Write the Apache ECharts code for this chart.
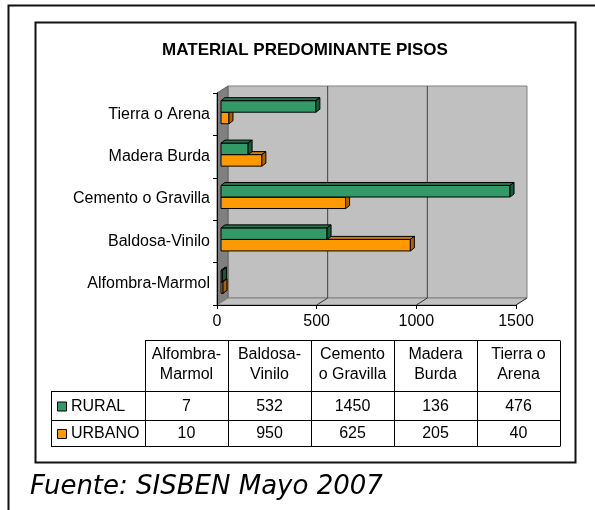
<!DOCTYPE html>
<html lang="es">
<head>
<meta charset="UTF-8" />
<title>Material predominante pisos</title>
<script src="https://cdn.jsdelivr.net/npm/echarts@6/dist/echarts.min.js"></script>
<style>
  html, body { margin: 0; padding: 0; background: #fff; }
  #grafico { width: 595px; height: 510px; }
</style>
</head>
<body>
<div id="grafico"></div>
<script>
  // Datos del grafico (de abajo hacia arriba en el eje de categorias)
  const categorias = ['Alfombra-Marmol', 'Baldosa-Vinilo', 'Cemento o Gravilla', 'Madera Burda', 'Tierra o Arena'];
  const encabezados = ['Alfombra-\nMarmol', 'Baldosa-\nVinilo', 'Cemento\no Gravilla', 'Madera\nBurda', 'Tierra o\nArena'];
  const nombresSeries = ['RURAL', 'URBANO'];
  const rural = [7, 532, 1450, 136, 476];
  const urbano = [10, 950, 625, 205, 40];
  const ticksX = [0, 500, 1000, 1500];

  const fuente = '"Liberation Sans", Arial, sans-serif';
  const colores = ['#339966', '#FF9900'];
  const coloresTapa = ['#267350', '#CC7A00'];
  const coloresLado = ['#1C5A3C', '#A86400'];

  // profundidad de las paredes y de las barras (efecto 3D)
  const prof = { dx: 11, dy: 7 };
  const barra = { bx: 4, by: -2, dx: 4, dy: 3 };

  // Paredes, piso y lineas de division
  function renderParedes(params, api) {
    const cs = params.coordSys;
    const izq = cs.x, arr = cs.y, der = cs.x + cs.width, abj = cs.y + cs.height;
    const hijos = [
      { type: 'rect', shape: { x: izq + prof.dx, y: arr - prof.dy, width: cs.width, height: cs.height },
        style: { fill: '#C0C0C0', stroke: '#808080', lineWidth: 1 } },
      { type: 'polygon', shape: { points: [[izq, arr], [izq + prof.dx, arr - prof.dy], [izq + prof.dx, abj - prof.dy], [izq, abj]] },
        style: { fill: '#808080', stroke: '#606060', lineWidth: 1 } },
      { type: 'polygon', shape: { points: [[izq, abj], [izq + prof.dx, abj - prof.dy], [der + prof.dx, abj - prof.dy], [der, abj]] },
        style: { fill: '#C0C0C0', stroke: '#808080', lineWidth: 1 } }
    ];
    ticksX.forEach(function (t) {
      if (t === 0) return;
      const x = api.coord([t, 0])[0];
      if (t < ticksX[ticksX.length - 1]) {
        hijos.push({ type: 'line', shape: { x1: x + prof.dx, y1: arr - prof.dy, x2: x + prof.dx, y2: abj - prof.dy },
          style: { stroke: '#404040', lineWidth: 1 } });
      }
      hijos.push({ type: 'line', shape: { x1: x, y1: abj, x2: x + prof.dx, y2: abj - prof.dy },
        style: { stroke: '#303030', lineWidth: 1 } });
    });
    return { type: 'group', children: hijos };
  }

  // Barra 3D: frente, tapa y lado
  function renderBarra(idx) {
    return function (params, api) {
      const v = api.value(0), cat = api.value(1);
      const p0 = api.coord([0, cat]);
      const p1 = api.coord([v, cat]);
      const banda = api.size([0, 1])[1];
      const h = banda * 0.272;
      const centro = p0[1] + barra.by;
      const y0 = idx === 0 ? centro - h : centro;
      const y1 = y0 + h;
      const x0 = p0[0] + barra.bx, x1 = p1[0] + barra.bx;
      const borde = { stroke: '#000', lineWidth: 1 };
      return {
        type: 'group',
        children: [
          { type: 'rect', shape: { x: x0, y: y0, width: x1 - x0, height: h },
            style: Object.assign({ fill: colores[idx] }, borde) },
          { type: 'polygon', shape: { points: [[x0, y0], [x0 + barra.dx, y0 - barra.dy], [x1 + barra.dx, y0 - barra.dy], [x1, y0]] },
            style: Object.assign({ fill: coloresTapa[idx] }, borde) },
          { type: 'polygon', shape: { points: [[x1, y0], [x1 + barra.dx, y0 - barra.dy], [x1 + barra.dx, y1 - barra.dy], [x1, y1]] },
            style: Object.assign({ fill: coloresLado[idx] }, borde) }
        ]
      };
    };
  }

  // Tabla de datos
  const tabla = { izq: 51, col0: 145, anchoCol: 83, arriba: 340.5, finEnc: 391, filas: [391, 420, 446] };
  const graficos = [];
  const derTabla = tabla.col0 + tabla.anchoCol * encabezados.length;
  function linea(x1, y1, x2, y2) {
    graficos.push({ type: 'line', shape: { x1: x1, y1: y1, x2: x2, y2: y2 }, style: { stroke: '#000', lineWidth: 1 } });
  }
  linea(tabla.col0, tabla.arriba, derTabla, tabla.arriba);
  tabla.filas.forEach(function (y) { linea(tabla.izq, y + 0.5, derTabla, y + 0.5); });
  linea(tabla.izq + 0.5, tabla.finEnc, tabla.izq + 0.5, tabla.filas[2] + 0.5);
  for (let i = 0; i <= encabezados.length; i++) {
    const x = tabla.col0 + tabla.anchoCol * i + 0.5;
    linea(x, tabla.arriba, x, tabla.filas[2] + 0.5);
  }
  encabezados.forEach(function (t, i) {
    graficos.push({ type: 'text', style: { text: t, x: tabla.col0 + tabla.anchoCol * (i + 0.5), y: 365,
      font: '16px ' + fuente, fill: '#000', align: 'center', verticalAlign: 'middle', lineHeight: 20 } });
  });
  [rural, urbano].forEach(function (serie, s) {
    const yc = (tabla.filas[s] + tabla.filas[s + 1]) / 2 + 1;
    graficos.push({ type: 'rect', shape: { x: 57.5, y: yc - 4.5, width: 9, height: 9 },
      style: { fill: colores[s], stroke: '#000', lineWidth: 1 } });
    graficos.push({ type: 'text', style: { text: nombresSeries[s], x: 71, y: yc,
      font: '16px ' + fuente, fill: '#000', align: 'left', verticalAlign: 'middle' } });
    serie.forEach(function (v, i) {
      graficos.push({ type: 'text', style: { text: String(v), x: tabla.col0 + tabla.anchoCol * (i + 0.5), y: yc,
        font: '16px ' + fuente, fill: '#000', align: 'center', verticalAlign: 'middle' } });
    });
  });

  // Marcos, titulo y fuente
  graficos.push({ type: 'polyline', shape: { points: [[8.5, 520], [8.5, 5.5], [600, 5.5]] },
    style: { stroke: '#111', lineWidth: 2, fill: null } });
  graficos.push({ type: 'rect', shape: { x: 35.5, y: 22.5, width: 540, height: 440 },
    style: { stroke: '#111', lineWidth: 2, fill: null }, z: -10 });
  graficos.push({ type: 'text', style: { text: 'MATERIAL PREDOMINANTE PISOS', x: 305, y: 50,
    font: 'bold 17px ' + fuente, fill: '#000', align: 'center', verticalAlign: 'middle' } });
  graficos.push({ type: 'text', style: { text: 'Fuente: SISBEN Mayo 2007', x: 30, y: 487,
    font: 'italic 26px "DejaVu Sans", Verdana, sans-serif', fill: '#000', align: 'left', verticalAlign: 'middle' } });

  const grafico = echarts.init(document.getElementById('grafico'));
  grafico.setOption({
    animation: false,
    backgroundColor: '#fff',
    grid: { left: 217, top: 93, width: 299, height: 212, containLabel: false, outerBoundsMode: 'none' },
    xAxis: {
      type: 'value', min: 0, max: 1500, interval: 500, z: 5,
      axisLine: { show: true, lineStyle: { color: '#000', width: 1 } },
      axisTick: { show: true, length: 4, lineStyle: { color: '#000' } },
      axisLabel: { color: '#000', fontSize: 16, fontFamily: fuente, margin: 9,
        formatter: function (v) { return String(v); } },
      splitLine: { show: false }
    },
    yAxis: {
      type: 'category', data: categorias, z: 5,
      axisLine: { show: true, lineStyle: { color: '#000', width: 1 } },
      axisTick: { show: true, length: 4, lineStyle: { color: '#000' } },
      axisLabel: { color: '#000', fontSize: 16, fontFamily: fuente, margin: 7 },
      splitLine: { show: false }
    },
    series: [
      { type: 'custom', name: 'paredes', renderItem: renderParedes, data: [[0, 0]], clip: false, z: 1, silent: true },
      { type: 'custom', name: nombresSeries[1], renderItem: renderBarra(1), clip: false, z: 2,
        data: urbano.map(function (v, i) { return [v, i]; }), encode: { x: 0, y: 1 } },
      { type: 'custom', name: nombresSeries[0], renderItem: renderBarra(0), clip: false, z: 3,
        data: rural.map(function (v, i) { return [v, i]; }), encode: { x: 0, y: 1 } }
    ],
    graphic: { elements: graficos }
  });
</script>
</body>
</html>
